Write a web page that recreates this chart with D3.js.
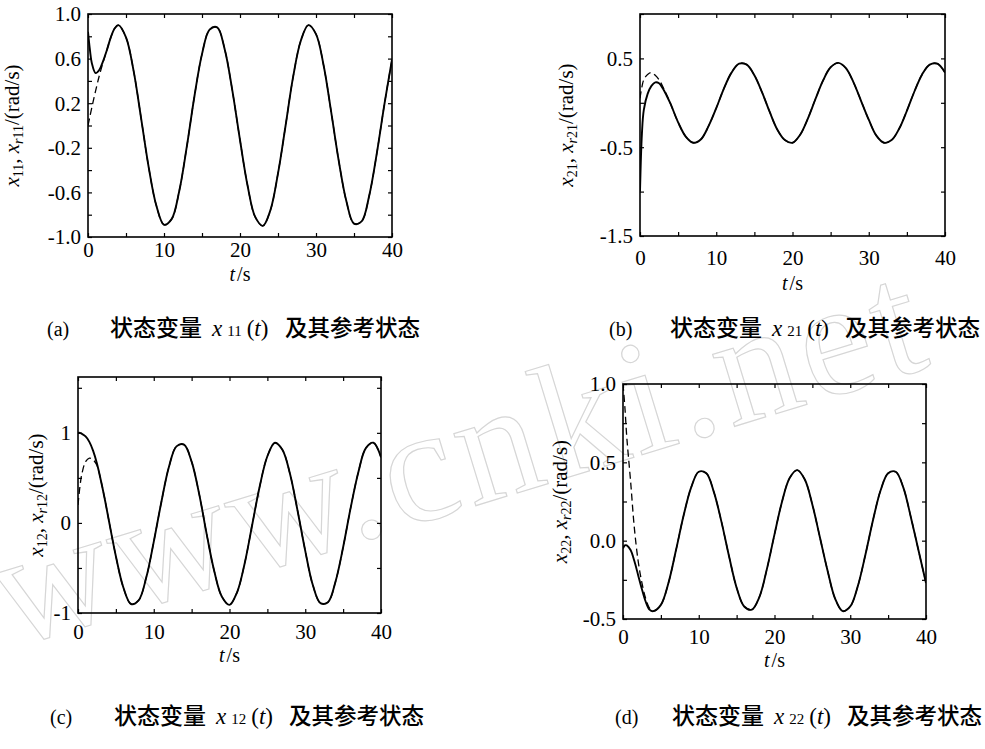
<!DOCTYPE html>
<html>
<head>
<meta charset="utf-8">
<script src="https://cdn.jsdelivr.net/npm/d3@7/dist/d3.min.js"></script>
<style>
  body { margin: 0; background: #fff; }
  svg { display: block; }
</style>
</head>
<body>
<div id="chart"></div>
<script>
// time samples (s), shared by all four panels
const time = [0, 0.25, 0.5, 1, 1.5, 2, 2.5, 3, 3.5, 4, 5, 6, 7, 8, 9, 10, 11, 12, 13, 14, 15,
  16, 17, 18, 19, 20, 21, 22, 23, 24, 25, 26, 27, 28, 29, 30, 31, 32, 33, 34, 35, 36, 37, 38, 39, 40];

// (a) x11 and reference xr11
const x11 = [0.84, 0.68, 0.56, 0.47, 0.50, 0.58, 0.68, 0.79, 0.87, 0.90, 0.79, 0.49, 0.06, -0.38, -0.72,
  -0.89, -0.84, -0.59, -0.19, 0.26, 0.64, 0.86, 0.88, 0.68, 0.31, -0.13, -0.54, -0.82, -0.90, -0.76,
  -0.43, 0.00, 0.44, 0.76, 0.90, 0.82, 0.54, 0.12, -0.32, -0.68, -0.88, -0.86, -0.63, -0.25, 0.19, 0.59];
const xr11 = [0.00, 0.08, 0.16, 0.31, 0.45, 0.57, 0.68, 0.79, 0.87, 0.90, 0.79, 0.49, 0.06, -0.38, -0.72,
  -0.89, -0.84, -0.59, -0.19, 0.26, 0.64, 0.86, 0.88, 0.68, 0.31, -0.13, -0.54, -0.82, -0.90, -0.76,
  -0.43, 0.00, 0.44, 0.76, 0.90, 0.82, 0.54, 0.12, -0.32, -0.68, -0.88, -0.86, -0.63, -0.25, 0.19, 0.59];

// (b) x21 and reference xr21
const x21 = [-1.00, -0.35, -0.08, 0.10, 0.19, 0.23, 0.22, 0.16, 0.08, -0.01, -0.22, -0.38, -0.45, -0.41, -0.26,
  -0.06, 0.16, 0.34, 0.44, 0.43, 0.31, 0.12, -0.10, -0.30, -0.42, -0.45, -0.36, -0.18, 0.04, 0.25,
  0.40, 0.45, 0.39, 0.23, 0.02, -0.19, -0.37, -0.45, -0.42, -0.29, -0.09, 0.13, 0.32, 0.43, 0.44, 0.34];
const xr21 = [0.05, 0.18, 0.26, 0.32, 0.34, 0.31, 0.26, 0.18, 0.09, -0.01, -0.22, -0.38, -0.45, -0.41, -0.26,
  -0.06, 0.16, 0.34, 0.44, 0.43, 0.31, 0.12, -0.10, -0.30, -0.42, -0.45, -0.36, -0.18, 0.04, 0.25,
  0.40, 0.45, 0.39, 0.23, 0.02, -0.19, -0.37, -0.45, -0.42, -0.29, -0.09, 0.13, 0.32, 0.43, 0.44, 0.34];

// (c) x12 and reference xr12
const x12 = [1.00, 1.00, 0.99, 0.96, 0.90, 0.80, 0.66, 0.48, 0.28, 0.06, -0.37, -0.72, -0.90, -0.86, -0.61,
  -0.21, 0.23, 0.62, 0.85, 0.87, 0.68, 0.32, -0.13, -0.54, -0.82, -0.91, -0.77, -0.45, -0.02, 0.41,
  0.74, 0.89, 0.81, 0.54, 0.13, -0.31, -0.69, -0.89, -0.88, -0.65, -0.27, 0.17, 0.56, 0.83, 0.89, 0.73];
const xr12 = [0.20, 0.40, 0.54, 0.68, 0.72, 0.70, 0.64, 0.48, 0.28, 0.06, -0.37, -0.72, -0.90, -0.86, -0.61,
  -0.21, 0.23, 0.62, 0.85, 0.87, 0.68, 0.32, -0.13, -0.54, -0.82, -0.91, -0.77, -0.45, -0.02, 0.41,
  0.74, 0.89, 0.81, 0.54, 0.13, -0.31, -0.69, -0.89, -0.88, -0.65, -0.27, 0.17, 0.56, 0.83, 0.89, 0.73];

// (d) x22 and reference xr22
const x22 = [-0.05, -0.03, -0.03, -0.06, -0.13, -0.22, -0.31, -0.39, -0.44, -0.45, -0.41, -0.27, -0.06, 0.16, 0.34,
  0.44, 0.43, 0.31, 0.12, -0.10, -0.30, -0.42, -0.44, -0.36, -0.18, 0.04, 0.25, 0.40, 0.45, 0.39,
  0.23, 0.02, -0.19, -0.37, -0.45, -0.42, -0.29, -0.09, 0.13, 0.32, 0.43, 0.44, 0.34, 0.15, -0.06, -0.27];
const xr22 = [1.00, 0.85, 0.66, 0.38, 0.08, -0.13, -0.27, -0.37, -0.43, -0.45, -0.41, -0.27, -0.06, 0.16, 0.34,
  0.44, 0.43, 0.31, 0.12, -0.10, -0.30, -0.42, -0.44, -0.36, -0.18, 0.04, 0.25, 0.40, 0.45, 0.39,
  0.23, 0.02, -0.19, -0.37, -0.45, -0.42, -0.29, -0.09, 0.13, 0.32, 0.43, 0.44, 0.34, 0.15, -0.06, -0.27];

// tick labels
const xTicks = [0, 10, 20, 30, 40];
const yTicksA = [1.0, 0.6, 0.2, -0.2, -0.6, -1.0];
const yTicksB = [0.5, -0.5, -1.5];
const yTicksC = [1, 0, -1];
const yTicksD = [1.0, 0.5, 0.0, -0.5];

const panels = [
  { id: "a", solid: x11, dashed: xr11, yDomain: [-1, 1], yTicks: yTicksA, yStep: 0.2, digits: 1, sub: "11",
    left: 88, right: 392, top: 14, bottom: 237, ylabX: 19, xPad: 5, xlabY: 281,
    capX: 47, capTextX: 110, capY: 336 },
  { id: "b", solid: x21, dashed: xr21, yDomain: [-1.5, 1.0], yTicks: yTicksB, yStep: 0.5, digits: 1, sub: "21",
    left: 640, right: 945, top: 14, bottom: 236, ylabX: 573, xPad: 14, xlabY: 290,
    capX: 609, capTextX: 670, capY: 336 },
  { id: "c", solid: x12, dashed: xr12, yDomain: [-1, 1.62], yTicks: yTicksC, yStep: 0.5, digits: 0, sub: "12",
    left: 78, right: 381, top: 377, bottom: 613, ylabX: 43, xPad: 11, xlabY: 662,
    capX: 50, capTextX: 114, capY: 724 },
  { id: "d", solid: x22, dashed: xr22, yDomain: [-0.5, 1.0], yTicks: yTicksD, yStep: 0.25, digits: 1, sub: "22",
    left: 623, right: 926, top: 384, bottom: 619, ylabX: 567, xPad: 10, xlabY: 667,
    capX: 615, capTextX: 672, capY: 724 }
];

const serif = "'Liberation Serif', 'Times New Roman', serif";
const cjk = "'Noto Sans CJK SC', sans-serif";

const svg = d3.select("#chart")
  .append("svg")
  .attr("width", 985)
  .attr("height", 749);

// faint watermark
svg.append("text")
  .attr("transform", "translate(10,648) rotate(-17)")
  .attr("font-family", serif)
  .attr("font-size", 164)
  .attr("letter-spacing", 5)
  .attr("fill", "none")
  .attr("stroke", "#d6d6d6")
  .attr("stroke-width", 1.2)
  .text("www.cnki.net");

panels.forEach((p) => {
  const x = d3.scaleLinear().domain([0, 40]).range([p.left, p.right]);
  const y = d3.scaleLinear().domain(p.yDomain).range([p.bottom, p.top]);
  const g = svg.append("g").attr("class", "panel-" + p.id);

  g.append("clipPath")
    .attr("id", "clip-" + p.id)
    .append("rect")
    .attr("x", p.left)
    .attr("y", p.top)
    .attr("width", p.right - p.left)
    .attr("height", p.bottom - p.top);

  // ticks every 5 s, labels every 10 s
  const xMinor = d3.range(0, 41, 5);
  const fmtY = (d) => d.toFixed(p.digits);
  const yMinor = d3.range(p.yDomain[0], p.yDomain[1] + 1e-9, p.yStep);

  const xAxis = d3.axisBottom(x)
    .tickValues(xMinor)
    .tickSizeInner(-4)
    .tickSizeOuter(0)
    .tickPadding(p.xPad)
    .tickFormat((d) => (xTicks.includes(d) ? d : ""));

  g.append("g")
    .attr("transform", `translate(0,${p.bottom})`)
    .call(xAxis)
    .call((s) => s.select(".domain").remove())
    .selectAll("text")
    .attr("font-family", serif)
    .attr("font-size", 21)
    .attr("fill", "#000");

  g.append("g")
    .attr("transform", `translate(0,${p.top})`)
    .call(d3.axisTop(x).tickValues(xMinor).tickSizeInner(-4).tickSizeOuter(0).tickFormat(""))
    .call((s) => s.select(".domain").remove());

  g.append("g")
    .attr("transform", `translate(${p.left},0)`)
    .call(d3.axisLeft(y).tickValues(yMinor).tickSizeInner(-4).tickSizeOuter(0).tickFormat(""))
    .call((s) => s.select(".domain").remove());

  g.append("g")
    .attr("transform", `translate(${p.right},0)`)
    .call(d3.axisRight(y).tickValues(yMinor).tickSizeInner(-4).tickSizeOuter(0).tickFormat(""))
    .call((s) => s.select(".domain").remove());

  // y tick labels
  g.append("g")
    .selectAll("text")
    .data(p.yTicks)
    .enter()
    .append("text")
    .attr("x", p.left - 7)
    .attr("y", (d) => y(d))
    .attr("dy", "0.35em")
    .attr("text-anchor", "end")
    .attr("font-family", serif)
    .attr("font-size", 21)
    .text(fmtY);

  g.selectAll(".tick line").attr("stroke", "#000").attr("stroke-width", 1.2);

  // frame
  g.append("rect")
    .attr("x", p.left)
    .attr("y", p.top)
    .attr("width", p.right - p.left)
    .attr("height", p.bottom - p.top)
    .attr("fill", "none")
    .attr("stroke", "#000")
    .attr("stroke-width", 1.6);

  const line = d3.line()
    .x((d, i) => x(time[i]))
    .y((d) => y(d))
    .curve(d3.curveCatmullRom.alpha(0.5));

  const lines = g.append("g").attr("clip-path", `url(#clip-${p.id})`);

  lines.append("path")
    .datum(p.dashed)
    .attr("fill", "none")
    .attr("stroke", "#000")
    .attr("stroke-width", 1.3)
    .attr("stroke-dasharray", "7,4")
    .attr("d", line);

  lines.append("path")
    .datum(p.solid)
    .attr("fill", "none")
    .attr("stroke", "#000")
    .attr("stroke-width", 1.9)
    .attr("d", line);

  // y axis label: x11, xr11/(rad/s)
  const cy = (p.top + p.bottom) / 2;
  const yl = g.append("text")
    .attr("transform", `translate(${p.ylabX},${cy}) rotate(-90)`)
    .attr("text-anchor", "middle")
    .attr("font-family", serif)
    .attr("font-size", 21);
  yl.append("tspan").attr("font-style", "italic").text("x");
  yl.append("tspan").attr("font-size", 14).attr("dy", 4).text(p.sub);
  yl.append("tspan").attr("dy", -4).text(", ");
  yl.append("tspan").attr("font-style", "italic").text("x");
  yl.append("tspan").attr("font-size", 14).attr("dy", 4).attr("font-style", "italic").text("r");
  yl.append("tspan").attr("font-size", 14).text(p.sub);
  yl.append("tspan").attr("dy", -4).text("/(rad/s)");

  // x axis label
  const xl = g.append("text")
    .attr("x", (p.left + p.right) / 2)
    .attr("y", p.xlabY)
    .attr("text-anchor", "middle")
    .attr("font-family", serif)
    .attr("font-size", 20);
  xl.append("tspan").attr("font-style", "italic").text("t");
  xl.append("tspan").attr("dx", 2).text("/s");

  // caption
  svg.append("text")
    .attr("x", p.capX)
    .attr("y", p.capY)
    .attr("font-family", serif)
    .attr("font-size", 20)
    .text(`(${p.id})`);

  const cap = svg.append("g")
    .attr("transform", `translate(${p.capTextX},${p.capY})`);
  cap.append("text")
    .attr("font-family", cjk)
    .attr("font-weight", 500)
    .attr("font-size", 23)
    .text("状态变量");
  const sym = cap.append("text")
    .attr("x", 102)
    .attr("font-family", serif)
    .attr("font-size", 23);
  sym.append("tspan").attr("font-style", "italic").text("x");
  sym.append("tspan").attr("dx", 5).attr("font-size", 15).text(p.sub);
  sym.append("tspan").attr("dx", 5).text("(");
  sym.append("tspan").attr("font-style", "italic").text("t");
  sym.append("tspan").text(")");
  cap.append("text")
    .attr("x", 175)
    .attr("font-family", cjk)
    .attr("font-weight", 500)
    .attr("font-size", 22.5)
    .text("及其参考状态");
});
</script>
</body>
</html>
